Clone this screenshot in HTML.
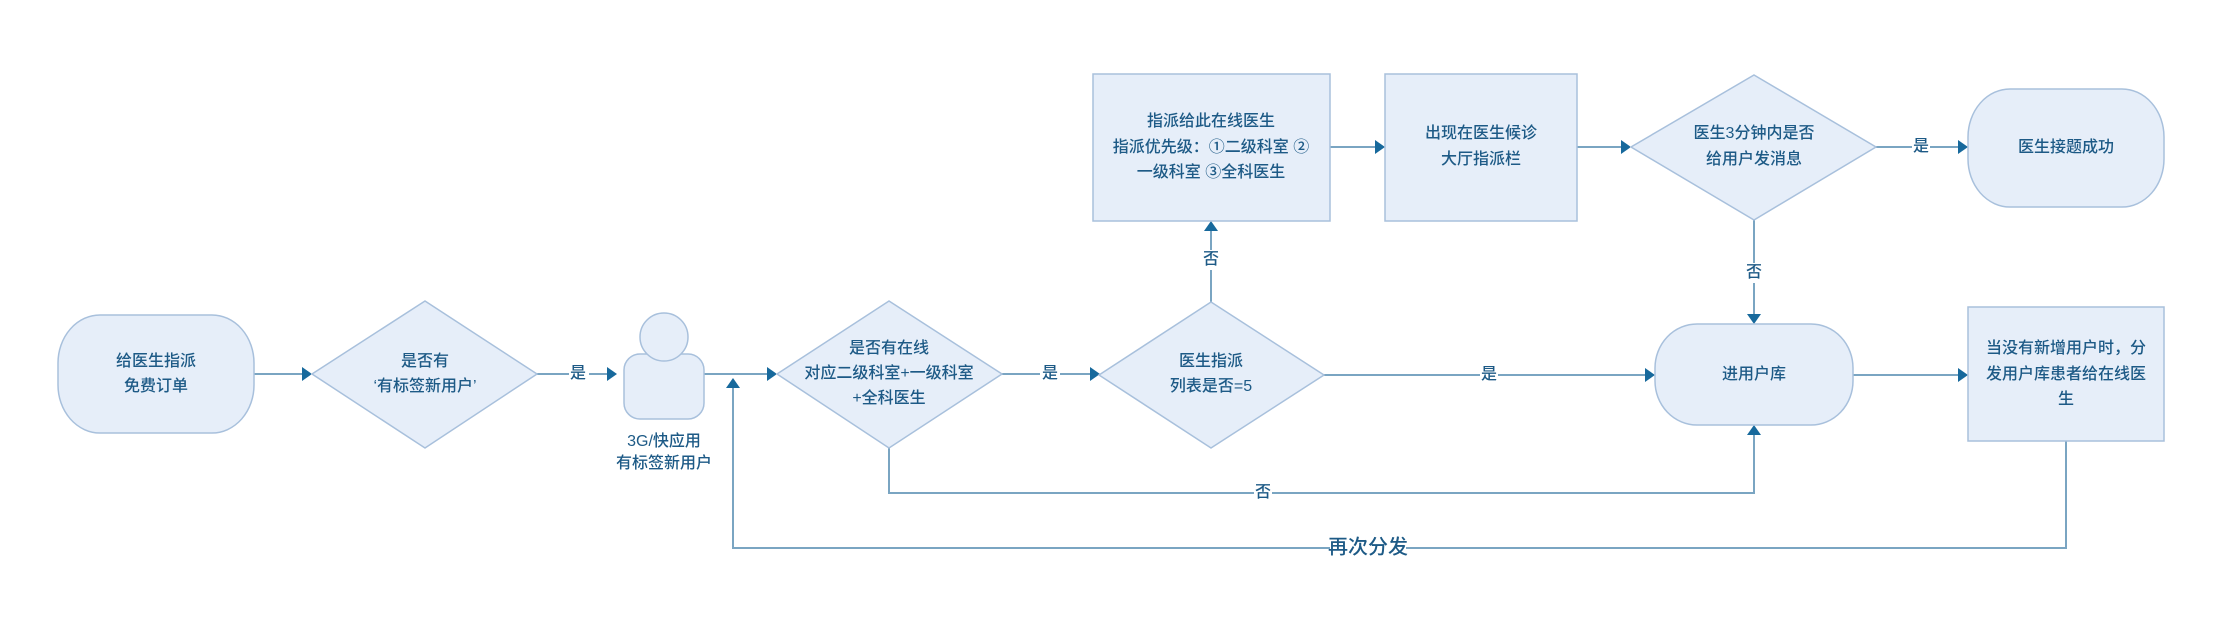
<!DOCTYPE html>
<html><head><meta charset="utf-8"><style>
html,body{margin:0;padding:0;background:#fff;}
svg{display:block;}
text{font-family:"Liberation Sans","Noto Sans CJK SC",sans-serif;font-size:16px;font-weight:500;fill:#1d5a86;text-anchor:middle;dominant-baseline:middle;}
.s{fill:#e6eef9;stroke:#a8c0dc;stroke-width:1.5;}
.l{stroke:#7aa5c2;stroke-width:2;fill:none;}
.a{fill:#17699c;}
</style></head><body>
<svg width="2222" height="638" viewBox="0 0 2222 638" xmlns="http://www.w3.org/2000/svg">
<path class="l" d="M254 374H306"/><polygon class="a" points="312,374 302,367 302,381"/>
<path class="l" d="M537 374H569 M589 374H611"/><polygon class="a" points="617,374 607,367 607,381"/>
<text x="578" y="374">是</text>
<path class="l" d="M704 374H771"/><polygon class="a" points="777,374 767,367 767,381"/>
<path class="l" d="M1002 374H1040 M1060 374H1094"/><polygon class="a" points="1100,374 1090,367 1090,381"/>
<text x="1050" y="374">是</text>
<path class="l" d="M1324 375H1480 M1498 375H1649"/><polygon class="a" points="1655,375 1645,368 1645,382"/>
<text x="1489" y="375">是</text>
<path class="l" d="M1211 302V270 M1211 250V228"/><polygon class="a" points="1211,221 1204,231 1218,231"/>
<text x="1211" y="260">否</text>
<path class="l" d="M1330 147H1379"/><polygon class="a" points="1385,147 1375,140 1375,154"/>
<path class="l" d="M1577 147H1625"/><polygon class="a" points="1631,147 1621,140 1621,154"/>
<path class="l" d="M1876 147H1912 M1930 147H1962"/><polygon class="a" points="1968,147 1958,140 1958,154"/>
<text x="1921" y="147">是</text>
<path class="l" d="M1754 220V263 M1754 283V317"/><polygon class="a" points="1754,324 1747,314 1761,314"/>
<text x="1754" y="273">否</text>
<path class="l" d="M1853 375H1962"/><polygon class="a" points="1968,375 1958,368 1958,382"/>
<path class="l" d="M889 448V493H1254 M1272 493H1754V432"/><polygon class="a" points="1754,425 1747,435 1761,435"/>
<text x="1263" y="493">否</text>
<path class="l" d="M2066 437V548H1406 M1330 548H733V385"/><polygon class="a" points="733,378 726,388 740,388"/>
<text x="1368" y="548" style="font-size:20px">再次分发</text>
<rect class="s" x="58" y="315" width="196" height="118" rx="42" ry="48"/>
<text x="156" y="362">给医生指派</text><text x="156" y="387">免费订单</text>
<polygon class="s" points="425,301 537,374 425,448 312,374"/>
<text x="425" y="362">是否有</text><text x="425" y="387">‘有标签新用户’</text>
<rect class="s" x="624" y="354" width="80" height="65" rx="16"/>
<circle class="s" cx="664" cy="337" r="24"/>
<text x="664" y="442">3G/快应用</text><text x="664" y="464">有标签新用户</text>
<polygon class="s" points="889,301 1002,374 889,448 777,374"/>
<text x="889" y="349">是否有在线</text><text x="889" y="374">对应二级科室+一级科室</text><text x="889" y="399">+全科医生</text>
<polygon class="s" points="1211,302 1324,375 1211,448 1099,375"/>
<text x="1211" y="362">医生指派</text><text x="1211" y="387">列表是否=5</text>
<rect class="s" x="1093" y="74" width="237" height="147"/>
<text x="1211" y="122">指派给此在线医生</text><text x="1211" y="148">指派优先级：①二级科室 ②</text><text x="1211" y="173">一级科室 ③全科医生</text>
<rect class="s" x="1385" y="74" width="192" height="147"/>
<text x="1481" y="134">出现在医生候诊</text><text x="1481" y="160">大厅指派栏</text>
<polygon class="s" points="1754,75 1876,147 1754,220 1631,147"/>
<text x="1754" y="134">医生3分钟内是否</text><text x="1754" y="160">给用户发消息</text>
<rect class="s" x="1968" y="89" width="196" height="118" rx="42" ry="48"/>
<text x="2066" y="148">医生接题成功</text>
<rect class="s" x="1655" y="324" width="198" height="101" rx="42" ry="44"/>
<text x="1754" y="375">进用户库</text>
<rect class="s" x="1968" y="307" width="196" height="134"/>
<text x="2066" y="349">当没有新增用户时，分</text><text x="2066" y="375">发用户库患者给在线医</text><text x="2066" y="400">生</text>
</svg>
</body></html>
